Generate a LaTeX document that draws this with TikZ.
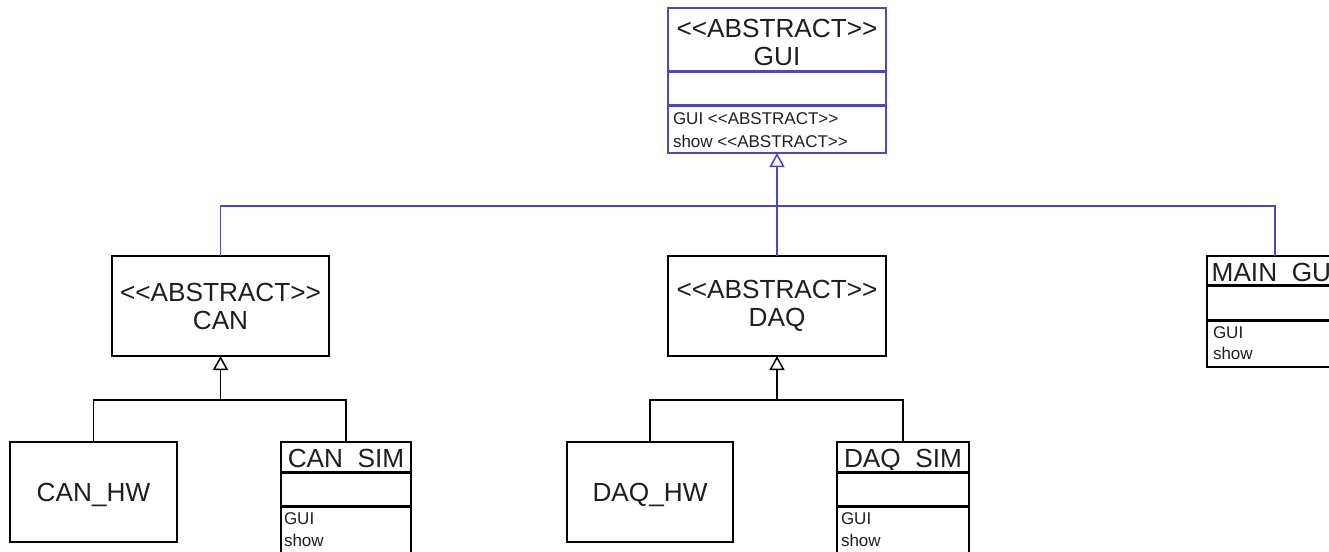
\documentclass[tikz,border=0pt]{standalone}
\usepackage{fontspec}
\setmainfont{Liberation Sans}
\usetikzlibrary{arrows.meta}
\definecolor{umlblue}{RGB}{72,72,192}
\definecolor{txt}{RGB}{30,30,30}
\begin{document}
\begin{tikzpicture}[x=1pt,y=-1pt,
  every node/.style={inner sep=0pt, outer sep=0pt, text=txt},
  cls/.style={draw, rectangle, line width=1.5pt, inner sep=0pt},
  big/.style={font=\fontsize{26.2pt}{28pt}\selectfont, align=center},
  small/.style={font=\fontsize{17pt}{20pt}\selectfont},
  sepline/.style={line width=3pt},
  conn/.style={line width=1.5pt},
  gen/.style={line width=1.5pt, -{Triangle[open, fill=white, length=14pt, width=15pt]}}
]
\useasboundingbox (0,0) rectangle (1329,551);
\clip (0,0) rectangle (1329,551);

% GUI
\node[cls, draw=umlblue, minimum width=218pt, minimum height=145pt] (gui) at (777,80.5) {};
\node[big] (guit) at (777,42) {<{}<ABSTRACT>{}>\\GUI};
\draw[sepline, umlblue] ([yshift=-63pt]gui.north west) -- ([yshift=-63pt]gui.north east);
\draw[sepline, umlblue] ([yshift=-97pt]gui.north west) -- ([yshift=-97pt]gui.north east);
\node[small, anchor=base west] (guim1) at (673,124) {GUI <{}<ABSTRACT>{}>};
\node[small, anchor=base west] (guim2) at (673,147) {show <{}<ABSTRACT>{}>};

% CAN, DAQ
\node[cls, minimum width=217pt, minimum height=100pt, big] (can) at (220.5,306) {<{}<ABSTRACT>{}>\\CAN};
\node[cls, minimum width=218pt, minimum height=100pt, big] (daq) at (777,306) {<{}<ABSTRACT>{}>\\DAQ};

% MAIN_GUI (cut off by the right edge, as in the reference)
\node[cls, minimum width=136pt, minimum height=111pt] (main) at (1275,311.5) {};
\begin{scope}
  \clip (1200,250) rectangle (1340,282);
  \node[big, anchor=base] (maint) at (1275,281) {MAIN\_GUI};
\end{scope}
\draw[sepline] ([yshift=-29pt]main.north west) -- ([yshift=-29pt]main.north east);
\draw[sepline] ([yshift=-64pt]main.north west) -- ([yshift=-64pt]main.north east);
\node[small, anchor=base west] (mainm1) at (1213,338) {GUI};
\node[small, anchor=base west] (mainm2) at (1213,359) {show};

% CAN children
\node[cls, minimum width=167pt, minimum height=100pt, big, text height=18.8pt, text depth=0pt] (canhw) at (93.5,492) {CAN\_HW};
\node[cls, minimum width=130pt, minimum height=120pt] (cansim) at (346,502) {};
\begin{scope}
  \clip (270,430) rectangle (420,468);
  \node[big, anchor=base] (cansimt) at (346,467) {CAN\_SIM};
\end{scope}
\draw[sepline] ([yshift=-30pt]cansim.north west) -- ([yshift=-30pt]cansim.north east);
\draw[sepline] ([yshift=-64pt]cansim.north west) -- ([yshift=-64pt]cansim.north east);
\node[small, anchor=base west] (cansimm1) at (284,524) {GUI};
\node[small, anchor=base west] (cansimm2) at (284,546) {show};

% DAQ children
\node[cls, minimum width=166pt, minimum height=100pt, big, text height=18.8pt, text depth=0pt] (daqhw) at (650,492) {DAQ\_HW};
\node[cls, minimum width=132pt, minimum height=120pt] (daqsim) at (903,502) {};
\begin{scope}
  \clip (830,430) rectangle (980,469);
  \node[big, anchor=base] (daqsimt) at (903,467) {DAQ\_SIM};
\end{scope}
\draw[sepline] ([yshift=-30pt]daqsim.north west) -- ([yshift=-30pt]daqsim.north east);
\draw[sepline] ([yshift=-64pt]daqsim.north west) -- ([yshift=-64pt]daqsim.north east);
\node[small, anchor=base west] (daqsimm1) at (841,524) {GUI};
\node[small, anchor=base west] (daqsimm2) at (841,546) {show};

% connectors to GUI
\coordinate (gj) at (777,206);
\draw[conn, umlblue] (can.north) |- (gj -| main.north) -- (main.north);
\draw[gen, umlblue] (daq.north) -- (gui.south);

% connectors to CAN
\coordinate (cj) at (220.5,400);
\draw[conn] (canhw.north) |- (cansim.north |- cj) -- (cansim.north);
\draw[gen] (cj) -- (can.south);

% connectors to DAQ
\coordinate (dj) at (777,400);
\draw[conn] (daqhw.north) |- (daqsim.north |- dj) -- (daqsim.north);
\draw[gen] (dj) -- (daq.south);
\end{tikzpicture}
\end{document}
